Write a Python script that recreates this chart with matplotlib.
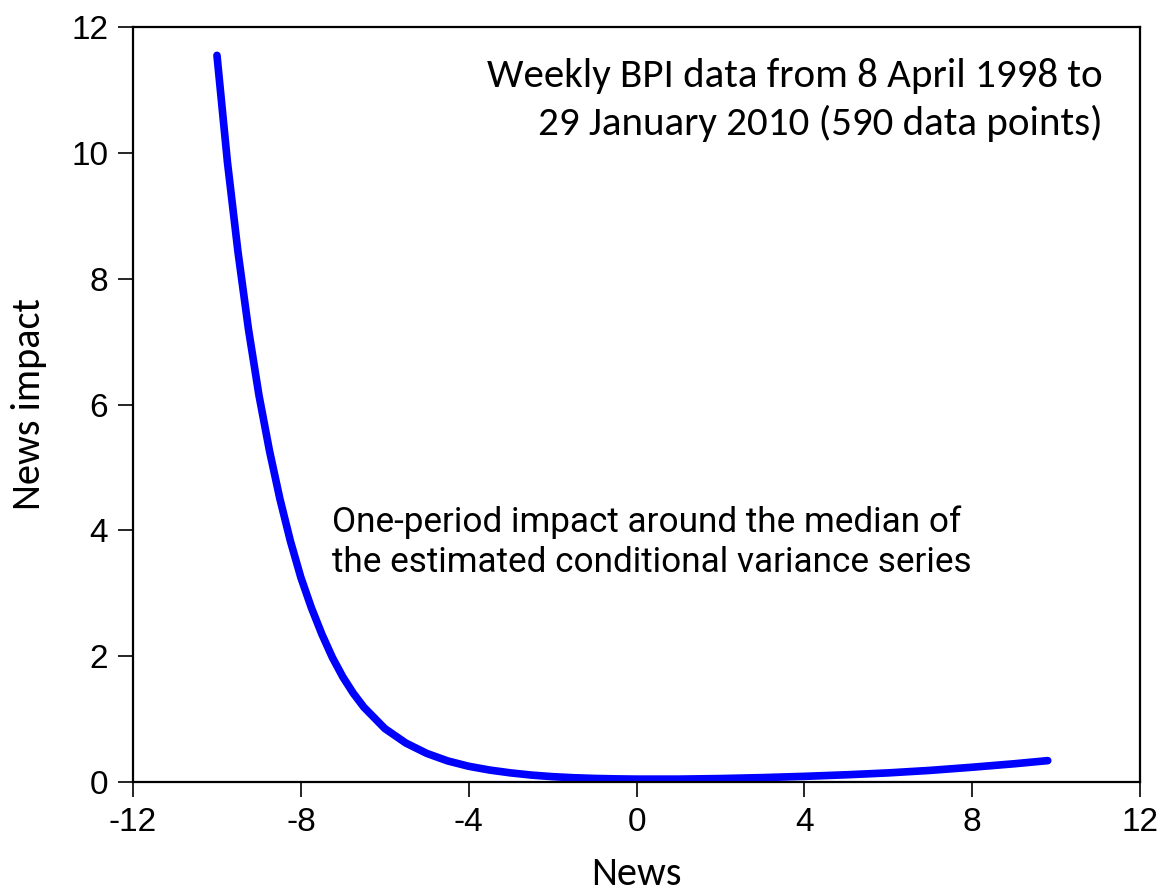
import numpy as np
import matplotlib.pyplot as plt
from matplotlib import font_manager

plt.rcParams['axes.unicode_minus'] = False

# news impact curve
news = [-10.0, -9.75, -9.5, -9.25, -9.0, -8.75, -8.5, -8.25, -8.0, -7.75, -7.5,
        -7.25, -7.0, -6.75, -6.5, -6.0, -5.5, -5.0, -4.5, -4.0, -3.5, -3.0, -2.5,
        -2.0, -1.5, -1.0, -0.5, 0.0, 1.0, 2.0, 3.0, 4.0, 5.0, 6.0, 7.0, 8.0, 9.0, 9.8]
impact = [11.55, 9.85, 8.43, 7.2, 6.15, 5.27, 4.5, 3.83, 3.25, 2.77, 2.35,
          1.98, 1.67, 1.41, 1.19, 0.85, 0.62, 0.455, 0.335, 0.25, 0.19, 0.145, 0.11,
          0.085, 0.068, 0.057, 0.05, 0.046, 0.046, 0.055, 0.07, 0.09, 0.115, 0.145, 0.185, 0.235, 0.29, 0.34]

xticks = [-12, -8, -4, 0, 4, 8, 12]
yticks = [0, 2, 4, 6, 8, 10, 12]

installed = {f.name for f in font_manager.fontManager.ttflist}
label_font = [f for f in ['Carlito', 'Lato'] if f in installed]
narrow_font = [f for f in ['Liberation Sans Narrow', 'Roboto'] if f in installed]

fig = plt.figure(figsize=(11.6, 8.92), dpi=100)
ax = fig.add_axes([0.1147, 0.1233, 0.8681, 0.8464])

ax.plot(news, impact, color='#0000ff', linewidth=5.5, solid_capstyle='round',
        solid_joinstyle='round')

ax.set_xlim(-12, 12)
ax.set_ylim(0, 12)
ax.set_xticks(xticks)
ax.set_yticks(yticks)
ax.tick_params(direction='out', length=11, width=1.2, labelsize=24, pad=7)
for lbl in ax.get_xticklabels() + ax.get_yticklabels():
    lbl.set_family('Liberation Sans')
for sp in ax.spines.values():
    sp.set_linewidth(1.6)

ax.set_xlabel("News", family=label_font, fontsize=29, labelpad=13)
ax.set_ylabel("News impact", family=label_font, fontsize=29, labelpad=17)

ax.text(11.12, 11.05, "Weekly BPI data from 8 April 1998 to", ha='right', va='baseline',
        family=label_font, fontsize=29.5)
ax.text(11.12, 10.28, "29 January 2010 (590 data points)", ha='right', va='baseline',
        family=label_font, fontsize=29.5)

ax.text(-7.26, 3.97, "One-period impact around the median of", ha='left', va='baseline',
        family=narrow_font, fontsize=25.3)
ax.text(-7.26, 3.34, "the estimated conditional variance series", ha='left', va='baseline',
        family=narrow_font, fontsize=25.3)

fig.savefig("out.png", dpi=100)
